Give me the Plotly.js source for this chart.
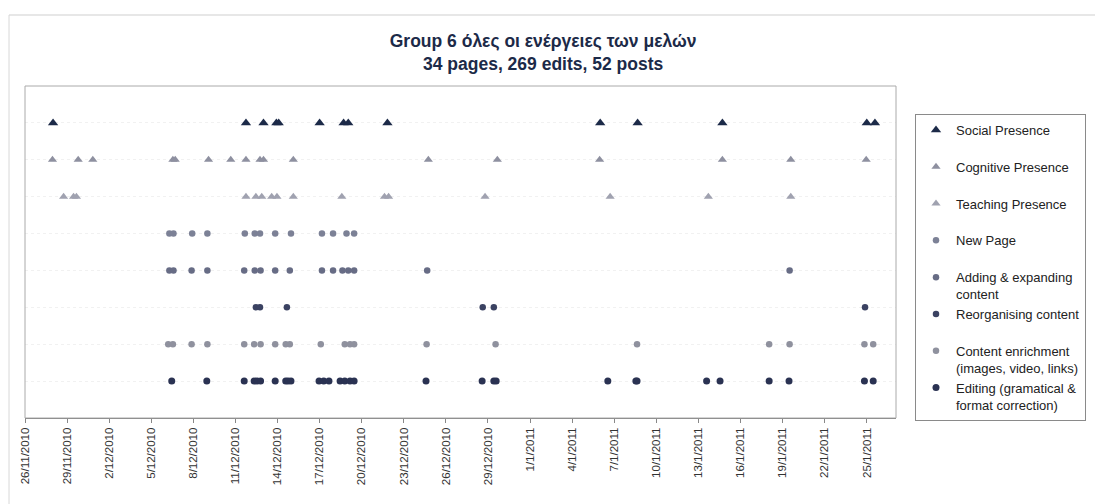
<!DOCTYPE html>
<html><head><meta charset="utf-8">
<script src="https://cdn.plot.ly/plotly-3.0.1.min.js"></script>
<style>html,body{margin:0;padding:0;background:#fff;} #chart{width:1095px;height:504px;}</style>
</head><body><div id="chart"></div>
<script>
// ---- data ----
const categories = ["Social Presence","Cognitive Presence","Teaching Presence","New Page",
  "Adding & expanding content","Reorganising content","Content enrichment","Editing"];
const legendLabels = ["Social Presence","Cognitive Presence","Teaching Presence","New Page",
  "Adding & expanding<br>content","Reorganising content",
  "Content enrichment<br>(images, video, links)","Editing (gramatical &<br>format correction)"];

const socialDates = ["2010-11-28 00:00","2010-12-11 18:00","2010-12-13 00:00","2010-12-13 22:00","2010-12-14 02:00",
  "2010-12-17 00:00","2010-12-18 17:00","2010-12-19 01:00","2010-12-21 20:00","2011-01-06 00:00",
  "2011-01-08 16:00","2011-01-14 17:00","2011-01-25 00:00","2011-01-25 14:00"];
const cognitiveDates = ["2010-11-27 23:00","2010-11-29 19:00","2010-11-30 20:00","2010-12-06 13:00","2010-12-06 17:00",
  "2010-12-09 02:00","2010-12-10 16:00","2010-12-11 18:00","2010-12-12 18:00","2010-12-13 00:00",
  "2010-12-15 03:00","2010-12-24 18:00","2010-12-29 16:00","2011-01-05 23:00","2011-01-14 17:00",
  "2011-01-19 14:00","2011-01-24 23:00"];
const teachingDates = ["2010-11-28 18:00","2010-11-29 11:00","2010-11-29 16:00","2010-12-11 18:00","2010-12-12 11:00",
  "2010-12-12 21:00","2010-12-13 14:00","2010-12-13 23:00","2010-12-15 03:00","2010-12-18 14:00",
  "2010-12-21 15:00","2010-12-21 22:00","2010-12-28 19:00","2011-01-06 17:00","2011-01-13 17:00",
  "2011-01-19 14:00"];
const newPageDates = ["2010-12-06 07:00","2010-12-06 14:00","2010-12-07 22:00","2010-12-09 00:00","2010-12-11 16:00",
  "2010-12-12 09:00","2010-12-12 18:00","2010-12-13 20:00","2010-12-14 23:00","2010-12-17 04:00",
  "2010-12-17 23:00","2010-12-18 22:00","2010-12-19 11:00"];
const addingDates = ["2010-12-06 07:00","2010-12-06 14:00","2010-12-07 21:00","2010-12-09 00:00","2010-12-11 15:00",
  "2010-12-12 09:00","2010-12-12 19:00","2010-12-13 20:00","2010-12-14 21:00","2010-12-17 04:00",
  "2010-12-17 23:00","2010-12-18 15:00","2010-12-19 01:00","2010-12-19 11:00","2010-12-24 16:00",
  "2011-01-19 12:00"];
const reorganisingDates = ["2010-12-12 11:00","2010-12-12 18:00","2010-12-14 16:00","2010-12-28 15:00",
  "2010-12-29 10:00","2011-01-24 21:00"];
const enrichmentDates = ["2010-12-06 05:00","2010-12-06 13:00","2010-12-07 21:00","2010-12-09 00:00","2010-12-11 15:00",
  "2010-12-12 08:00","2010-12-12 19:00","2010-12-13 20:00","2010-12-14 14:00","2010-12-14 21:00",
  "2010-12-17 02:00","2010-12-18 19:00","2010-12-19 04:00","2010-12-19 11:00","2010-12-24 15:00",
  "2010-12-29 13:00","2011-01-08 15:00","2011-01-18 01:00","2011-01-19 12:00","2011-01-24 20:00",
  "2011-01-25 11:00"];
const editingDates = ["2010-12-06 11:00","2010-12-08 23:00","2010-12-11 15:00","2010-12-12 08:00","2010-12-12 13:00",
  "2010-12-12 19:00","2010-12-13 20:00","2010-12-14 14:00","2010-12-14 18:00","2010-12-14 23:00",
  "2010-12-16 23:00","2010-12-17 07:00","2010-12-17 16:00","2010-12-18 11:00","2010-12-18 19:00",
  "2010-12-19 04:00","2010-12-19 11:00","2010-12-24 14:00","2010-12-28 14:00","2010-12-29 10:00",
  "2010-12-29 14:00","2011-01-06 13:00","2011-01-08 13:00","2011-01-08 15:00","2011-01-13 14:00",
  "2011-01-14 13:00","2011-01-18 01:00","2011-01-19 11:00","2011-01-24 20:00","2011-01-25 11:00"];

const seriesDates = [socialDates, cognitiveDates, teachingDates, newPageDates,
  addingDates, reorganisingDates, enrichmentDates, editingDates];

const axisStart = "2010-11-26";
const axisEnd = "2011-01-27 02:00";
const tickStepDays = 3;

// ---- styles ----
const styles = [
  {symbol:"triangle-up", color:"#1c2a48", size:9},
  {symbol:"triangle-up", color:"#8e90a0", size:8},
  {symbol:"triangle-up", color:"#a0a2b0", size:8},
  {symbol:"circle", color:"#7c8196", size:6.5},
  {symbol:"circle", color:"#676c85", size:6.5},
  {symbol:"circle", color:"#3b4262", size:6.5},
  {symbol:"circle", color:"#8f919e", size:6.5},
  {symbol:"circle", color:"#2a3252", size:7}
];

const FONT = "Liberation Sans, Arial, sans-serif";

const traces = categories.map((cat, i) => ({
  type: "scatter",
  mode: "markers",
  name: legendLabels[i].indexOf("<br>") >= 0 ? legendLabels[i] : legendLabels[i] + "<br>\u00a0",
  x: seriesDates[i],
  y: seriesDates[i].map(() => cat),
  marker: {symbol: styles[i].symbol, color: styles[i].color, size: styles[i].size,
           line: {width: 0}},
  hoverinfo: "x+name"
}));

const W = 871, H = 332; // plot area px (for paper-coordinate decorations)
const layout = {
  width: 1095, height: 504,
  margin: {l: 25, r: 199, t: 86, b: 86, autoexpand: false},
  paper_bgcolor: "#ffffff", plot_bgcolor: "#ffffff",
  font: {family: FONT, color: "#222"},
  title: {
    text: "Group 6 όλες οι ενέργειες των μελών<br>34 pages, 269 edits, 52 posts",
    font: {family: FONT, size: 17.5, color: "#1c2a48", weight: "bold"},
    x: 0.496, xanchor: "center", xref: "container",
    y: 1 - 47/504, yanchor: "top", yref: "container"
  },
  xaxis: {
    type: "date",
    range: [axisStart, axisEnd],
    tick0: axisStart,
    dtick: tickStepDays * 86400000,
    tickformat: "%-d/%-m/%Y",
    tickangle: -90,
    tickfont: {family: FONT, size: 11.5, color: "#333"},
    ticks: "outside", ticklen: 4, tickcolor: "#888",
    showgrid: false, zeroline: false,
    showline: true, linecolor: "#777", linewidth: 1
  },
  yaxis: {
    type: "category",
    categoryorder: "array",
    categoryarray: categories.slice().reverse(),
    range: [-1, 8],
    showticklabels: false, ticks: "",
    showgrid: true, gridcolor: "#f1f1f1", griddash: "dot", gridwidth: 1,
    zeroline: false, showline: false, fixedrange: true
  },
  showlegend: true,
  legend: {
    x: (915 - 25) / W, xanchor: "left",
    y: (418 - 114) / H, yanchor: "top",
    bgcolor: "#ffffff", bordercolor: "#8a8a8a", borderwidth: 1,
    font: {family: FONT, size: 13, color: "#222"},
    valign: "top", traceorder: "normal", itemclick: false
  },
  shapes: [
    {type: "rect", xref: "paper", yref: "paper", x0: 0, x1: 1, y0: 0, y1: 1,
     line: {color: "#aaaaaa", width: 1}, layer: "above"},
    {type: "line", xref: "paper", yref: "paper", x0: (9 - 25)/W, x1: (1095 - 25)/W,
     y0: (418 - 15)/H, y1: (418 - 15)/H, line: {color: "#cfcfcf", width: 1}},
    {type: "line", xref: "paper", yref: "paper", x0: (9 - 25)/W, x1: (9 - 25)/W,
     y0: (418 - 15)/H, y1: (418 - 504)/H, line: {color: "#d8d8d8", width: 1}}
  ]
};

Plotly.newPlot("chart", traces, layout, {staticPlot: true, displayModeBar: false});
</script>
</body></html>
